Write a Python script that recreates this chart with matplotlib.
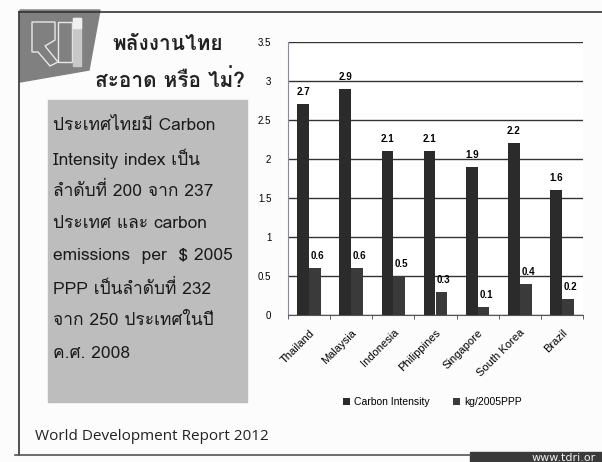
import numpy as np
import matplotlib.pyplot as plt
from matplotlib import font_manager
from matplotlib.ft2font import FT2Font
from matplotlib.patches import Polygon, Rectangle

# =========================
# Data
# =========================
countries = ['Thailand', 'Malaysia', 'Indonesia', 'Philippines',
             'Singapore', 'South Korea', 'Brazil']
carbon_intensity = [2.7, 2.9, 2.1, 2.1, 1.9, 2.2, 1.6]
kg_2005ppp = [0.6, 0.6, 0.5, 0.3, 0.1, 0.4, 0.2]
series_names = ['Carbon Intensity', 'kg/2005PPP']
y_ticks = [0, 0.5, 1, 1.5, 2, 2.5, 3, 3.5]

title_lines = ['พลังงานไทย', 'สะอาด หรือ ไม่?']
body_lines = ['ประเทศไทยมี Carbon', 'Intensity index เป็น',
              'ลำดับที่ 200 จาก 237', 'ประเทศ และ carbon',
              'emissions  per  $ 2005', 'PPP เป็นลำดับที่ 232',
              'จาก 250 ประเทศในปี', 'ค.ศ. 2008']
source_text = 'World Development Report 2012'
site_text = 'www.tdri.or'


# find a font that can draw Thai
def find_thai_font():
    for f in font_manager.fontManager.ttflist:
        try:
            if ord('ก') in FT2Font(f.fname).get_charmap():
                return f.name
        except Exception:
            pass
    return None


thai = find_thai_font()
fam = [thai, 'DejaVu Sans'] if thai else ['DejaVu Sans']

W, H = 602, 462
fig = plt.figure(figsize=(W / 100, H / 100), dpi=100)
fig.patch.set_facecolor('#fcfcfc')


def fx(x):
    return x / W


def fy(y):
    return 1 - y / H


# =========================
# Slide decoration
# =========================
deco = fig.add_axes([0, 0, 1, 1])
deco.set_xlim(0, W)
deco.set_ylim(H, 0)
deco.axis('off')

deco.plot([19, 602], [12, 12], color='#333333', lw=1.2)
deco.plot([19, 19], [12, 455], color='#333333', lw=1.2)
deco.plot([15, 470], [455, 455], color='#555555', lw=1.2)
deco.add_patch(Rectangle((470, 452), 132, 10, color='#3a3a3a'))
deco.text(596, 458, site_text, color='#eeeeee', fontsize=8,
          ha='right', va='center', family='DejaVu Sans')

# logo
deco.add_patch(Polygon([(20, 10), (100, 10), (89, 70), (20, 82)],
                       closed=True, color='#808080'))
deco.add_patch(Polygon([(32, 22), (55, 22), (55, 40), (45, 46), (58, 62),
                        (50, 66), (38, 52), (32, 52)],
                       closed=True, fill=False, ec='#e8e8e8', lw=1))
deco.add_patch(Rectangle((58, 22), 14, 40, fill=False, ec='#e8e8e8', lw=1))
deco.add_patch(Rectangle((73, 18), 8, 48, color='#c8c8c8'))
deco.add_patch(Rectangle((73, 18), 8, 10, color='#f0f0f0'))

# text box
deco.add_patch(Rectangle((48, 100), 199, 302, color='#bdbdbd'))

deco.text(168, 45, title_lines[0], fontsize=15, fontweight='bold',
          ha='center', va='center', family=fam, color='#222222')
deco.text(170, 80, title_lines[1], fontsize=15, fontweight='bold',
          ha='center', va='center', family=fam, color='#222222')

for i, line in enumerate(body_lines):
    deco.text(53, 126 + i * 32.5, line, fontsize=12.5,
              ha='left', va='center', family=fam, color='#1a1a1a')

deco.text(35, 437, source_text, fontsize=11, ha='left', va='center',
          family=['Open Sans', 'DejaVu Sans'], color='#222222')

# =========================
# Bar chart
# =========================
ax = fig.add_axes([fx(288), fy(315), fx(583) - fx(288), fy(42) - fy(315)])
x = np.arange(len(countries))
w = 0.28
bars1 = ax.bar(x - w / 2, carbon_intensity, w, color='#2b2b2b',
               label=series_names[0], zorder=3)
bars2 = ax.bar(x + w / 2, kg_2005ppp, w, color='#3a3a3a',
               label=series_names[1], zorder=3)

for b, v in zip(bars1, carbon_intensity):
    ax.text(b.get_x() + b.get_width() / 2, v + 0.09, f'{v:.1f}',
            ha='center', va='bottom', fontsize=7, fontweight='bold',
            family='Liberation Sans')
for b, v in zip(bars2, kg_2005ppp):
    ax.text(b.get_x() + b.get_width() * 0.7, v + 0.09, f'{v:.1f}',
            ha='center', va='bottom', fontsize=7, fontweight='bold',
            family='Liberation Sans')

ax.set_xlim(-0.5, len(countries) - 0.5)
ax.set_ylim(0, 3.5)
ax.set_yticks(y_ticks)
ax.set_yticklabels([f'{t:g}' for t in y_ticks], fontsize=7,
                   family='Liberation Sans')
ax.yaxis.grid(True, color='#333333', lw=1)
ax.set_axisbelow(True)
ax.tick_params(axis='y', length=0, pad=12)
ax.set_xticks(np.arange(len(countries) + 1) - 0.5, minor=True)
ax.set_xticks(x)
ax.set_xticklabels(countries, rotation=45, ha='right', rotation_mode='anchor',
                   fontsize=8, family='Liberation Sans')
ax.tick_params(axis='x', which='major', length=0, pad=9)
ax.tick_params(axis='x', which='minor', length=3, color='#444444')
for s in ['top', 'right']:
    ax.spines[s].set_visible(False)
ax.spines['left'].set_color('#8888aa')
ax.spines['left'].set_linewidth(0.8)
ax.spines['bottom'].set_color('#555555')

ax.legend(loc='center', bbox_to_anchor=(0.49, -0.32), ncol=2, frameon=False,
          handlelength=0.7, handleheight=0.7, handletextpad=0.4,
          columnspacing=2.2, prop={'family': 'Liberation Sans', 'size': 7.5})

plt.savefig('out.png', dpi=100)
plt.close()
